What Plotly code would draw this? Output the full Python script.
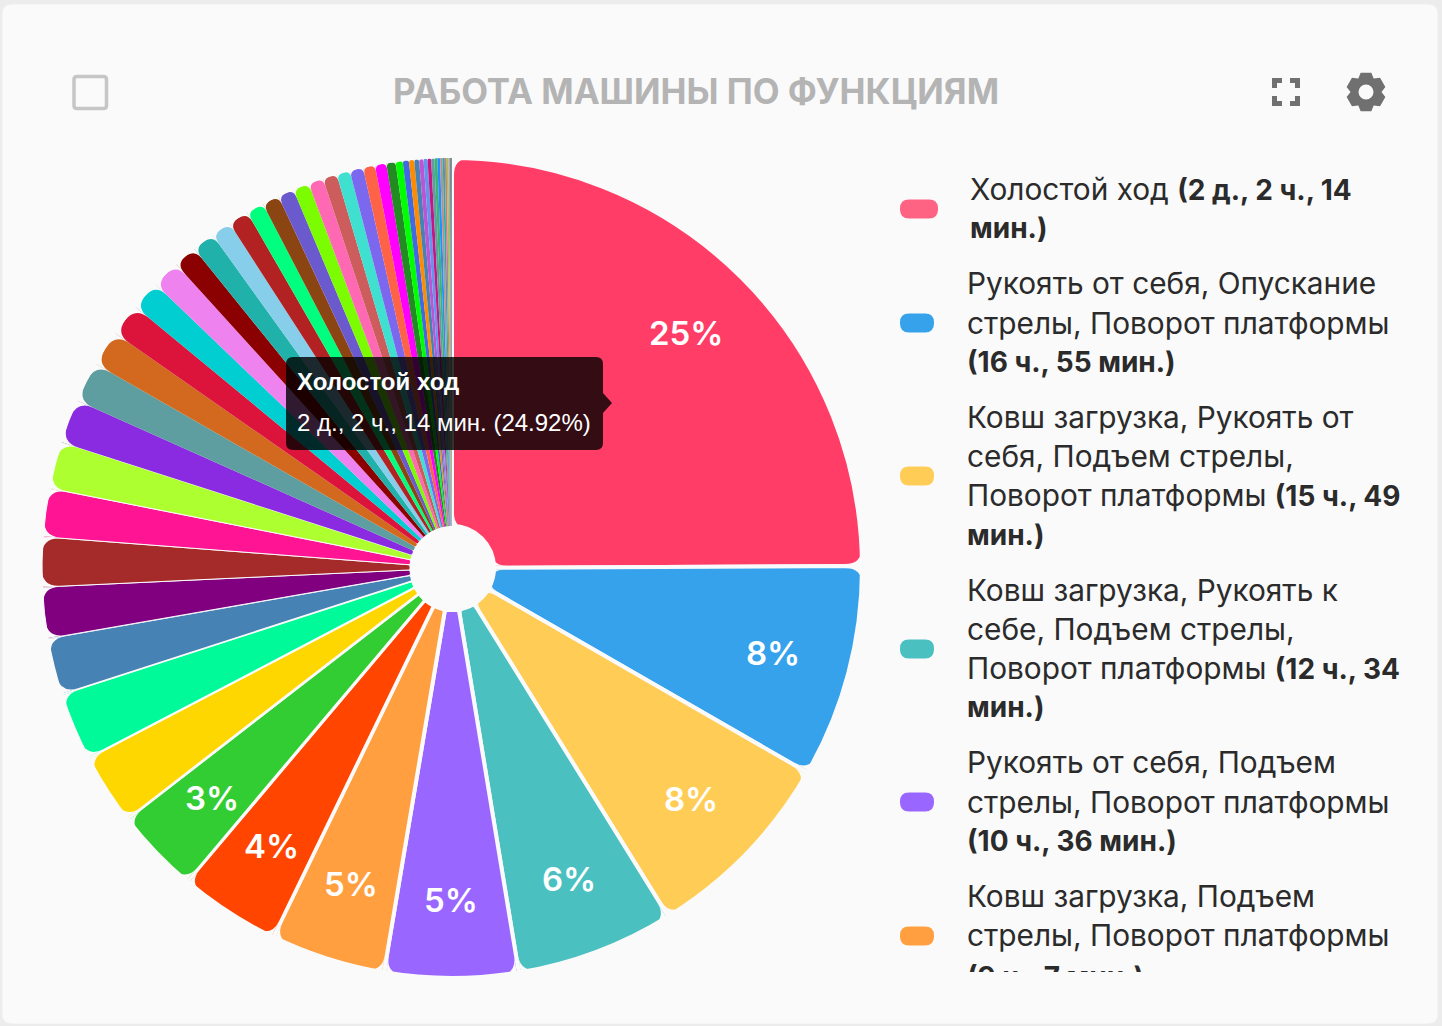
import math
import plotly.graph_objects as go

W, H = 1442, 1026

# Duration of each machine function, in minutes (first six from legend, rest)
minutes = [3014, 1015, 949, 754, 636, 547, 481, 407, 340, 325, 270, 243, 236, 230,
           224, 208, 193, 170, 156, 142, 135, 111, 108, 97, 97, 84, 81, 77, 77, 71, 67,
           64, 64, 57, 54, 44, 34, 29, 25, 23, 21, 19, 17, 15, 14, 13, 12, 10, 9, 8, 7, 6, 4]
colors = ["#ff3d67", "#36a2eb", "#ffcd56", "#4bc0c0", "#9966ff", "#ff9f40", "#ff4500", "#32cd32",
          "#ffd700", "#00fa9a", "#4682b4", "#800080", "#a52a2a", "#ff1493", "#adff2f", "#8a2be2",
          "#5f9ea0", "#d2691e", "#dc143c", "#00ced1", "#ee82ee", "#8b0000", "#20b2aa", "#87ceeb",
          "#b22222", "#00ff7f", "#8b4513", "#6a5acd", "#7cfc00", "#ff69b4", "#cd5c5c", "#40e0d0",
          "#7b68ee", "#ff6347", "#ff00ff", "#228b22", "#00ff00", "#4169e1", "#ff8c00", "#4682b4",
          "#ba55d3", "#6495ed", "#c71585", "#5f9ea0", "#3cb371", "#1e90ff", "#bc8f8f", "#20b2aa",
          "#db7093", "#9acd32", "#a9a9a9", "#778899", "#708090"]
percent_labels = ["25%", "8%", "8%", "6%", "5%", "5%", "4%", "3%"]
gap_widths = [4, 4, 4, 4, 4, 4, 3.5, 3, 2.5, 2, 1.5, 1, 1, 1, 1]

title_text = "РАБОТА МАШИНЫ ПО ФУНКЦИЯМ"
tooltip_title = "Холостой ход"
tooltip_body = "2 д., 2 ч., 14 мин. (24.92%)"
legend_lines = [
    ["Холостой ход <b>(2 д., 2 ч., 14</b>", "<b>мин.)</b>"],
    ["Рукоять от себя, Опускание", "стрелы, Поворот платформы", "<b>(16 ч., 55 мин.)</b>"],
    ["Ковш загрузка, Рукоять от", "себя, Подъем стрелы,", "Поворот платформы <b>(15 ч., 49</b>", "<b>мин.)</b>"],
    ["Ковш загрузка, Рукоять к", "себе, Подъем стрелы,", "Поворот платформы <b>(12 ч., 34</b>", "<b>мин.)</b>"],
    ["Рукоять от себя, Подъем", "стрелы, Поворот платформы", "<b>(10 ч., 36 мин.)</b>"],
    ["Ковш загрузка, Подъем", "стрелы, Поворот платформы", "<b>(9 ч., 7 мин.)</b>"],
]
legend_colors = ["#ff6384", "#36a2eb", "#ffcd56", "#4bc0c0", "#9966ff", "#ff9f40"]

# ---- geometry of the page
CX, CY, R = 452, 568, 410
HOLE_R = 42
LABEL_R = 332
BG = "#fafafa"
LEG_FONT = "Inter"
LEG_SIZE = 29.8
BOLD_OPEN = '<span style="font-weight:700;font-size:28px">'


def px(x):
    return x / W


def py(y):
    return 1 - y / H


def pt(x, y):
    return f"{px(x):.5f} {py(y):.5f}"


def round_rect(x0, y0, x1, y1, r):
    return (f"M {pt(x0 + r, y0)} L {pt(x1 - r, y0)} Q {pt(x1, y0)} {pt(x1, y0 + r)} "
            f"L {pt(x1, y1 - r)} Q {pt(x1, y1)} {pt(x1 - r, y1)} "
            f"L {pt(x0 + r, y1)} Q {pt(x0, y1)} {pt(x0, y1 - r)} "
            f"L {pt(x0, y0 + r)} Q {pt(x0, y0)} {pt(x0 + r, y0)} Z")


def path_shape(path, fill=None, line=None, lw=0, layer="above"):
    return dict(type="path", xref="paper", yref="paper", path=path, layer=layer,
                fillcolor=fill or "rgba(0,0,0,0)",
                line=dict(color=line or "rgba(0,0,0,0)", width=lw))


def gear(cx, cy, ro, ri, teeth=6):
    p = []
    step = 2 * math.pi / teeth
    for i in range(teeth):
        a = i * step - math.pi / 2
        for da, r in [(-0.52, ri), (-0.27, ro), (0.27, ro), (0.52, ri)]:
            p.append(pt(cx + r * math.cos(a + da * step / 1.05), cy + r * math.sin(a + da * step / 1.05)))
    return "M " + " L ".join(p) + " Z"


def corner_masks(a0, a1, gap):
    """Background-coloured corner pieces that round one slice (angles clockwise from north)."""
    out = []
    span_out = (a1 - a0) * R
    span_in = (a1 - a0) * HOLE_R
    for a, s in [(a0, 1), (a1, -1)]:
        ux, uy = math.sin(a), -math.cos(a)
        tx, ty = math.cos(a), math.sin(a)
        # outer corner
        rc = min(17, span_out / 2 - gap / 2)
        if rc > 1.5:
            cx_ = CX + ux * R + tx * s * gap / 2
            cy_ = CY + uy * R + ty * s * gap / 2
            ex, ey = cx_ - ux * rc, cy_ - uy * rc
            ax, ay = cx_ + tx * s * rc, cy_ + ty * s * rc
            out.append(path_shape(f"M {pt(ex, ey)} Q {pt(cx_, cy_)} {pt(ax, ay)} "
                                  f"L {pt(ax + ux * 3, ay + uy * 3)} L {pt(cx_ + ux * 3, cy_ + uy * 3)} Z", fill=BG))
        # inner corner
        rc = min(13, span_in / 2 - gap / 2)
        if rc > 1.5:
            cx_ = CX + ux * HOLE_R + tx * s * gap / 2
            cy_ = CY + uy * HOLE_R + ty * s * gap / 2
            ex, ey = cx_ + ux * rc, cy_ + uy * rc
            b = a + s * rc / HOLE_R
            ax, ay = CX + math.sin(b) * HOLE_R, CY - math.cos(b) * HOLE_R
            out.append(path_shape(f"M {pt(ex, ey)} Q {pt(cx_, cy_)} {pt(ax, ay)} "
                                  f"L {pt(ax - math.sin(b) * 2, ay + math.cos(b) * 2)} "
                                  f"L {pt(cx_ - ux * 2, cy_ - uy * 2)} Z", fill=BG))
    return out


shapes = [path_shape(round_rect(2, 4, 1438, 1024, 10), fill=BG, line="#efefef", lw=1, layer="below")]

# rounded slice corners, from the same values as the pie
total = sum(minutes)
widths = gap_widths + [0] * (len(minutes) - len(gap_widths))
cum = 0
for i, v in enumerate(minutes):
    a0 = cum / total * 2 * math.pi
    cum += v
    a1 = cum / total * 2 * math.pi
    shapes += corner_masks(a0, a1, widths[i])

# checkbox
shapes.append(path_shape(round_rect(74, 76.5, 106.5, 108.5, 3), line="#c6c6c6", lw=3.5))

# fullscreen icon
for x, y, dx, dy in [(1272, 78, 1, 1), (1300, 78, -1, 1), (1272, 106, 1, -1), (1300, 106, -1, -1)]:
    shapes.append(path_shape(f"M {pt(x + dx * 2.5, y + dy * 10)} L {pt(x + dx * 2.5, y + dy * 2.5)} "
                             f"L {pt(x + dx * 10, y + dy * 2.5)}", line="#707070", lw=5))

# gear icon
shapes.append(path_shape(gear(1366, 92, 20, 15.5), fill="#707070"))
shapes.append(dict(type="circle", xref="paper", yref="paper", layer="above",
                   x0=px(1358.5), x1=px(1373.5), y0=py(99.5), y1=py(84.5),
                   fillcolor=BG, line=dict(width=0)))

# legend pills
legend_centers = [209, 323, 476, 649, 802, 936]
for i, (yc, col) in enumerate(zip(legend_centers, legend_colors)):
    x1 = 938 if i == 0 else 934
    shapes.append(path_shape(round_rect(900, yc - 9.5, x1, yc + 9.5, 9), fill=col))

# tooltip
shapes.append(path_shape(round_rect(286, 357, 603, 450, 7), fill="rgba(0,0,0,0.8)"))
shapes.append(path_shape(f"M {pt(603, 393)} L {pt(612, 403)} L {pt(603, 413)} Z", fill="rgba(0,0,0,0.8)"))

annotations = [dict(text=title_text, x=px(696), y=py(91), xref="paper", yref="paper",
                    xanchor="center", yanchor="middle", showarrow=False,
                    font=dict(family="Inter", size=34.8, color="#b4b4b4", weight=700)),
               dict(text=f"<b>{tooltip_title}</b>", x=px(295), y=py(382), xref="paper", yref="paper",
                    xanchor="left", yanchor="middle", showarrow=False,
                    font=dict(family="Liberation Sans", size=24, color="#ffffff")),
               dict(text=tooltip_body, x=px(295), y=py(423), xref="paper", yref="paper",
                    xanchor="left", yanchor="middle", showarrow=False,
                    font=dict(family="Liberation Sans", size=24, color="#ffffff"))]

# percent labels placed at mid-angle of the slices
cum = 0
for v, lab in zip(minutes, percent_labels):
    mid = (cum + v / 2) / total * 2 * math.pi
    cum += v
    annotations.append(dict(text=lab, x=px(CX + LABEL_R * math.sin(mid)), y=py(CY - LABEL_R * math.cos(mid)),
                            xref="paper", yref="paper", xanchor="center", yanchor="middle", showarrow=False,
                            font=dict(family="Inter", size=33, color="#ffffff", weight=600)))

# legend text
line_ys = [[189, 228], [283, 323, 362], [417, 456, 495, 535], [590, 629, 668, 707], [762, 802, 841], [896, 935, 974]]
for i, (lines, ys) in enumerate(zip(legend_lines, line_ys)):
    x = 968 if i == 0 else 965
    for text, y in zip(lines, ys):
        a = dict(text=text.replace("<b>", BOLD_OPEN).replace("</b>", "</span>"),
                 x=px(x), y=py(y), xref="paper", yref="paper", xanchor="left", yanchor="middle",
                 align="left", showarrow=False, font=dict(family=LEG_FONT, size=LEG_SIZE, color="#2b2b2b"))
        if y == 974:
            a.update(y=py(958), yanchor="top", height=12, valign="top")
        annotations.append(a)

fig = go.Figure(go.Pie(
    values=minutes, sort=False, direction="clockwise", rotation=0, hole=HOLE_R / R,
    marker=dict(colors=colors, line=dict(color=BG, width=widths)),
    textinfo="none", hoverinfo="none", showlegend=False,
    domain=dict(x=[px(CX - R), px(CX + R)], y=[py(CY + R), py(CY - R)]),
))
fig.update_layout(width=W, height=H, autosize=False, margin=dict(l=0, r=0, t=0, b=0, pad=0),
                  paper_bgcolor="#ececec", plot_bgcolor=BG, shapes=shapes, annotations=annotations,
                  showlegend=False)
fig.write_html("out.html", config=dict(displayModeBar=False),
               post_script="document.body.style.margin='0';document.body.style.overflow='hidden';")
